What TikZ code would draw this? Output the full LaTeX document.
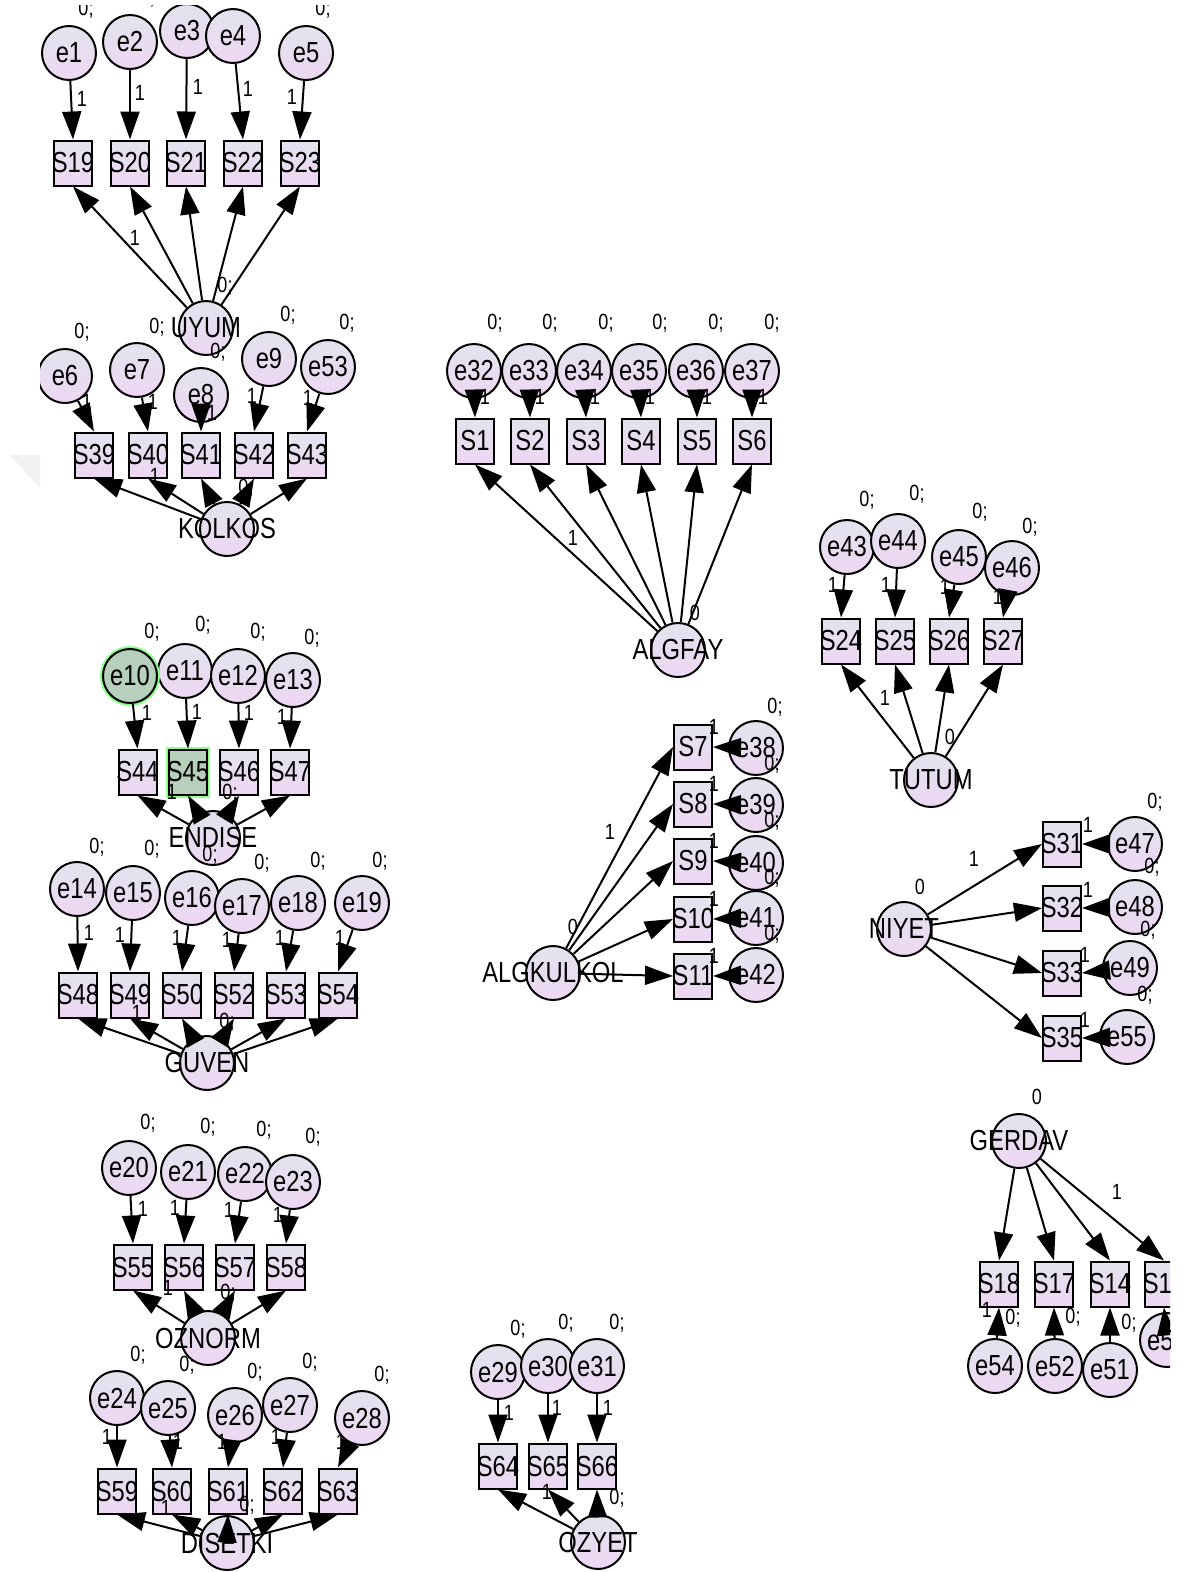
\documentclass[tikz,border=0pt]{standalone}
\usepackage{fontspec}
\usetikzlibrary{arrows.meta}
\newfontfamily\amos[FakeStretch=0.82]{Liberation Sans}
\definecolor{lavtop}{RGB}{226,228,238}
\definecolor{lavbot}{RGB}{238,214,243}
\definecolor{grnfill}{RGB}{182,208,188}
\newcommand\zb[1]{\makebox[0pt]{#1}}
\tikzset{
 base/.style={draw=black, line width=2pt, inner sep=0pt, font={\amos\fontsize{29pt}{29pt}\selectfont}},
 obs/.style={base, rectangle, minimum width=38pt, minimum height=45pt, top color=lavtop, bottom color=lavbot},
 lat/.style={base, circle, minimum size=54pt, top color=lavtop, bottom color=lavbot},
 grn/.style={top color=grnfill, bottom color=grnfill, preaction={draw=green!45!white, line width=6pt}},
 arr/.style={line width=2pt, -{Triangle[length=28pt,width=19pt]}},
 num/.style={inner sep=0pt, font={\amos\fontsize{22pt}{22pt}\selectfont}},
}
\begin{document}
\begin{tikzpicture}[x=1pt,y=-1pt]
\fill[white] (0,0) rectangle (1183,1572);
\useasboundingbox (0,0) rectangle (1183,1572);
\begin{scope}
\clip (0,5) rectangle (1170,1572);
% faint watermark wedge
\fill[black!5] (10,455) -- (40,455) -- (40,488) -- cycle;
% ---------- error circles ----------
\foreach \n/\x/\y in {e1/69/53,e2/130/42,e3/187/31,e4/233/36,e5/306/53,
  e6/65/376,e7/137/370,e8/201/395,e9/269/359,e53/328/367,
  e11/185/671,e12/238/676,e13/293/680,
  e14/77/889,e15/133/893,e16/192/898,e17/242/906,e18/298/903,e19/362/903,
  e20/129/1168,e21/188/1172,e22/245/1174,e23/293/1182,
  e24/117/1398,e25/168/1408,e26/235/1415,e27/290/1405,e28/362/1418,
  e29/498/1372,e30/548/1366,e31/597/1366,
  e32/474/371,e33/529/371,e34/584/371,e35/639/371,e36/696/371,e37/752/371,
  e38/756/748,e39/756/805,e40/756/863,e41/756/918,e42/756/975,
  e43/847/547,e44/898/541,e45/959/557,e46/1012/568,
  e47/1135/844,e48/1135/907,e49/1130/968,e55/1127/1037,
  e54/995/1366,e52/1055/1366,e51/1110/1370,e50/1167/1340}
  \node[lat] (\n) at (\x,\y) {\zb{\n}};
\node[lat,grn] (e10) at (130,676) {\zb{e10}};
% ---------- observed boxes ----------
\foreach \n/\x/\y in {S19/73/163,S20/130/163,S21/186/163,S22/243/163,S23/300/163,
  S39/94/455,S40/148/455,S41/201/455,S42/254/455,S43/307/455,
  S44/137.5/772,S46/239/772,S47/290/772,
  S48/78/995,S49/130/995,S50/182/995,S52/234/995,S53/286/995,S54/338/995,
  S55/133/1267,S56/184/1267,S57/235/1267,S58/286/1267,
  S59/117/1491,S60/172/1491,S61/228/1491,S62/283/1491,S63/338/1491,
  S64/498/1466,S65/548/1466,S66/597/1466,
  S1/475/441,S2/530/441,S3/586/441,S4/641/441,S5/697/441,S6/752/441,
  S7/693/747,S8/693/804,S9/693/861,S10/693/919,S11/693/976,
  S24/841/641,S25/895/641,S26/949/641,S27/1003/641,
  S31/1062/844,S32/1062/908,S33/1062/973,S35/1062/1038,
  S18/999/1284,S17/1054/1284,S14/1110/1284,S16/1164/1284}
  \node[obs] (\n) at (\x,\y) {\zb{\n}};
\node[obs,grn] (S45) at (188,772) {\zb{S45}};
% ---------- latent variables ----------
\foreach \n/\x/\y in {UYUM/206/328,KOLKOS/227/529,ENDISE/213/838,GUVEN/207/1063,
  OZNORM/208/1338,DISETKI/227/1543,OZYET/598/1542,ALGFAY/678/650,
  ALGKULKOL/553/973,TUTUM/931/780,NIYET/904/929,GERDAV/1019/1141}
  \node[lat] (\n) at (\x,\y) {\zb{\n}};
% left margin cut of e6
\fill[white] (-5,315) rectangle (40,447);
% ---------- "0;" labels ----------
\foreach \x/\y [count=\i] in {86/9,147/-2,323/9,225/286,
  82/332,157/327,218/352,288/315,347/323,246/488,
  152/632,203/625,258/632,312/638,230/793,
  97/847,152/849,210/855,262/863,318/861,380/861,227/1022,
  148/1123,208/1127,264/1130,313/1137,228/1293,
  138/1355,187/1365,255/1372,310/1362,382/1375,247/1505,
  518/1329,566/1323,617/1323,617/1498,
  495/323,550/323,606/323,660/323,716/323,772/323,
  775/707,772/764,772/821,772/878,772/934,
  867/500,917/494,980/512,1030/527,
  1155/802,1152/867,1148/930,1145/995,
  1013/1318,1073/1317,1129/1323}
  \node[num] (v\i) at (\x,\y) {0;};
% ---------- "0" labels ----------
\foreach \x/\y [count=\i] in {695/613,573/927,950/737,920/887,1037/1097}
  \node[num] (m\i) at (\x,\y) {0};
% ---------- "1" labels ----------
\foreach \x/\y [count=\i] in {82/99,140/93,198/87,248/89,292/97,135/238,
  87/402,153/402,212/413,252/396,308/398,155/476,
  147/713,197/712,249/713,282/717,172/792,
  89/933,120/935,177/938,227/940,280/938,340/938,137/1013,
  143/1209,175/1208,229/1210,278/1215,168/1288,
  107/1437,178/1442,222/1442,276/1437,341/1442,166/1508,
  509/1413,557/1408,608/1408,547/1492,
  485/397,540/397,595/397,650/397,707/397,763/397,573/538,
  714/727,714/784,714/841,714/899,714/956,610/832,
  833/585,886/585,945/587,998/597,885/698,
  1088/825,1088/890,1085/955,1085/1020,974/859,
  987/1310,1117/1192}
  \node[num] (w\i) at (\x,\y) {1};
% ---------- error -> indicator (from above) ----------
\foreach \a/\b in {e1/S19,e2/S20,e3/S21,e4/S22,e5/S23,
  e6/S39,e7/S40,e8/S41,e9/S42,e53/S43,
  e10/S44,e11/S45,e12/S46,e13/S47,
  e14/S48,e15/S49,e16/S50,e17/S52,e18/S53,e19/S54,
  e20/S55,e21/S56,e22/S57,e23/S58,
  e24/S59,e25/S60,e26/S61,e27/S62,e28/S63,
  e29/S64,e30/S65,e31/S66,
  e32/S1,e33/S2,e34/S3,e35/S4,e36/S5,e37/S6,
  e43/S24,e44/S25,e45/S26,e46/S27}
  \draw[arr] (\a) -- (\b.north);
% error -> indicator (from right)
\foreach \a/\b in {e38/S7,e39/S8,e40/S9,e41/S10,e42/S11,
  e47/S31,e48/S32,e49/S33,e55/S35}
  \draw[arr] (\a) -- (\b.east);
% error -> indicator (from below)
\foreach \a/\b in {e54/S18,e52/S17,e51/S14,e50/S16}
  \draw[arr] (\a) -- (\b.south);
% ---------- latent -> indicators ----------
\foreach \l/\b in {UYUM/S19,UYUM/S20,UYUM/S21,UYUM/S22,UYUM/S23,
  KOLKOS/S39,KOLKOS/S40,KOLKOS/S41,KOLKOS/S42,KOLKOS/S43,
  ENDISE/S44,ENDISE/S45,ENDISE/S46,ENDISE/S47,
  GUVEN/S48,GUVEN/S49,GUVEN/S50,GUVEN/S52,GUVEN/S53,GUVEN/S54,
  OZNORM/S55,OZNORM/S56,OZNORM/S57,OZNORM/S58,
  DISETKI/S59,DISETKI/S60,DISETKI/S61,DISETKI/S62,DISETKI/S63,
  OZYET/S64,OZYET/S65,OZYET/S66,
  ALGFAY/S1,ALGFAY/S2,ALGFAY/S3,ALGFAY/S4,ALGFAY/S5,ALGFAY/S6,
  TUTUM/S24,TUTUM/S25,TUTUM/S26,TUTUM/S27}
  \draw[arr] (\l) -- (\b.south);
\foreach \l/\b in {ALGKULKOL/S7,ALGKULKOL/S8,ALGKULKOL/S9,ALGKULKOL/S10,ALGKULKOL/S11,
  NIYET/S31,NIYET/S32,NIYET/S33,NIYET/S35}
  \draw[arr] (\l) -- (\b.west);
\foreach \l/\b in {GERDAV/S18,GERDAV/S17,GERDAV/S14,GERDAV/S16}
  \draw[arr] (\l) -- (\b.north);
\end{scope}
\end{tikzpicture}
\end{document}
